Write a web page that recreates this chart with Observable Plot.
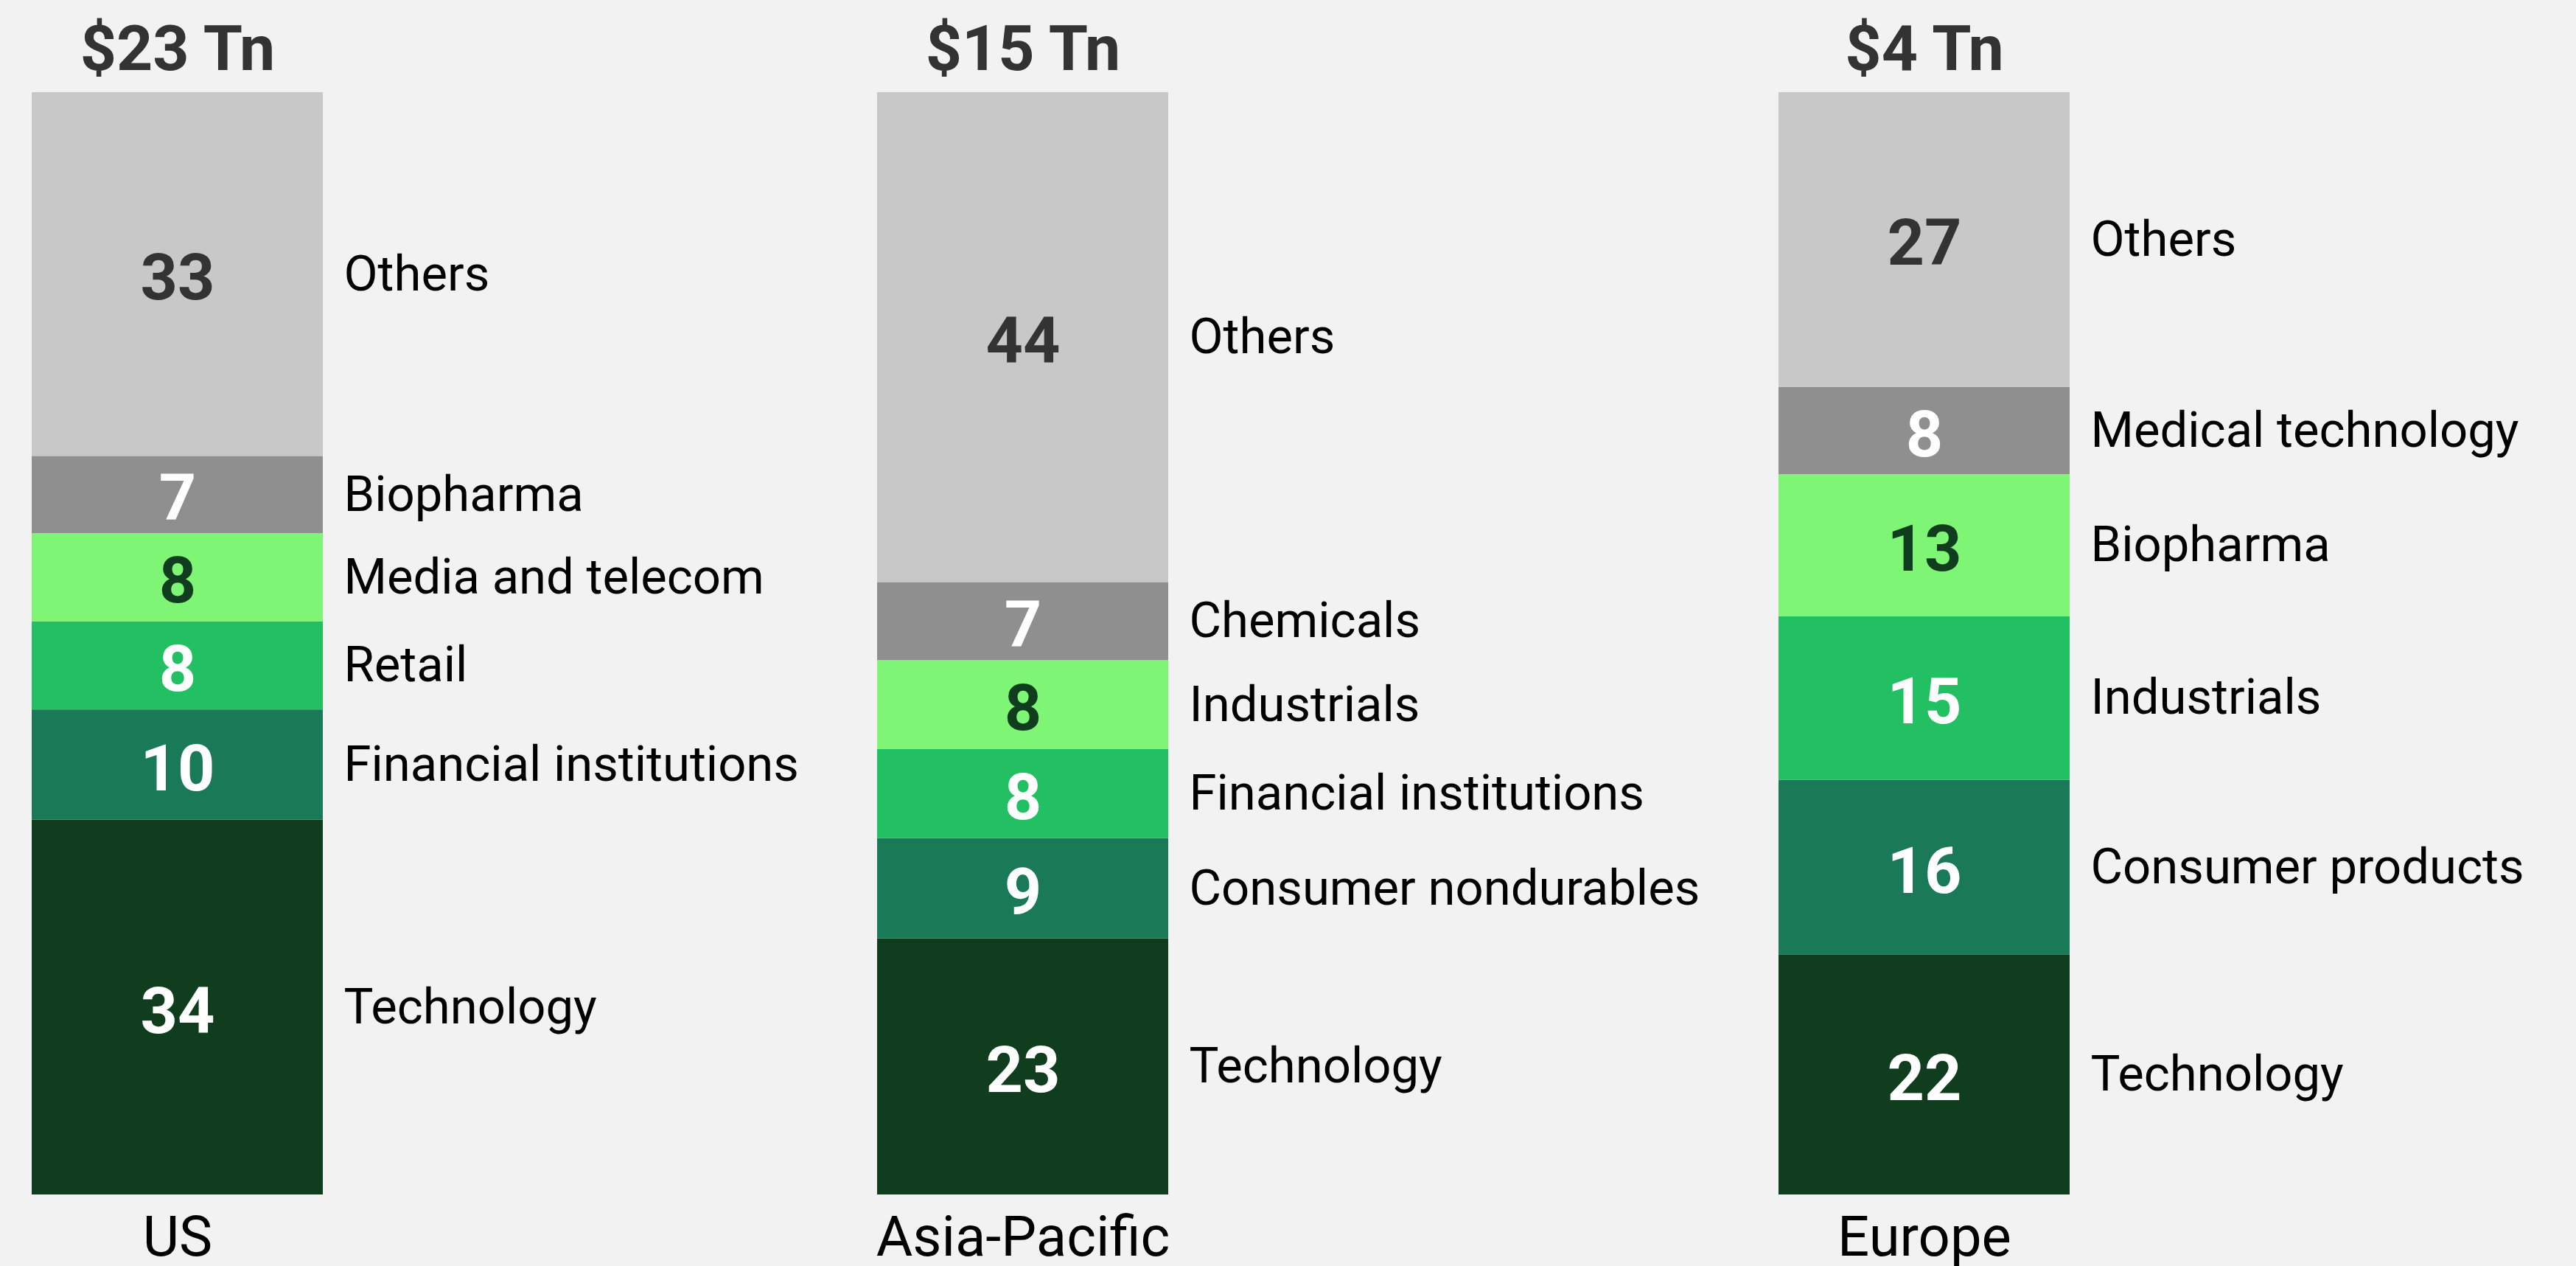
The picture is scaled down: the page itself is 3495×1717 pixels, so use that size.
<!DOCTYPE html>
<html>
<head>
<meta charset="utf-8">
<script src="https://cdn.jsdelivr.net/npm/d3@7"></script>
<script src="https://cdn.jsdelivr.net/npm/@observablehq/plot@0.6"></script>
<style>
  html, body { margin: 0; padding: 0; background: #f2f2f2; }
  #chart svg { display: block; }
</style>
</head>
<body>
<div id="chart"></div>
<script>
// ---- Data ----
const regions = ["US", "Asia-Pacific", "Europe"];
const totals = ["$23 Tn", "$15 Tn", "$4 Tn"];

// segments listed bottom -> top
const usSectors = ["Technology", "Financial institutions", "Retail", "Media and telecom", "Biopharma", "Others"];
const usValues = [34, 10, 8, 8, 7, 33];

const apSectors = ["Technology", "Consumer nondurables", "Financial institutions", "Industrials", "Chemicals", "Others"];
const apValues = [23, 9, 8, 8, 7, 44];

const euSectors = ["Technology", "Consumer products", "Industrials", "Biopharma", "Medical technology", "Others"];
const euValues = [22, 16, 15, 13, 8, 27];

// ---- Table built from the arrays ----
const sectorLists = [usSectors, apSectors, euSectors];
const valueLists = [usValues, apValues, euValues];
const rows = [];
regions.forEach((region, i) => {
  sectorLists[i].forEach((sector, r) => {
    rows.push({idx: i, region, sector, value: valueLists[i][r], rank: r});
  });
});
const heads = regions.map((region, i) => ({idx: i, region, total: totals[i]}));

// ---- Styles ----
const rankColors = ["#0f3d1e", "#1a7a57", "#22c063", "#7ef574", "#8f8f8f", "#c8c8c8"];
const barHalf = 197.5;
const stackOpts = {offset: "normalize"};
const valueDy = 6;

const chart = Plot.plot({
  width: 3495,
  height: 1717,
  marginTop: 125,
  marginBottom: 97,
  marginLeft: 0,
  marginRight: 0,
  style: {background: "#f2f2f2", fontFamily: "Roboto, 'Open Sans', sans-serif"},
  x: {type: "linear", domain: [0, 1, 2], range: [240.5, 1387.5, 2610.5], axis: null},
  y: {domain: [0, 1], axis: null},
  color: {type: "ordinal", domain: [0, 1, 2, 3, 4, 5], range: rankColors},
  marks: [
    Plot.rectY(rows, Plot.stackY(stackOpts, {
      x1: "idx", x2: "idx", y: "value", fill: "rank",
      insetLeft: -barHalf, insetRight: -barHalf
    })),
    // value labels: white
    Plot.text(rows, Plot.stackY(stackOpts, {
      x: "idx", y: "value", dy: valueDy,
      text: d => (d.rank === 5 || d.rank === 3) ? null : String(d.value),
      fill: "#ffffff", fontSize: 88, fontWeight: "bold"
    })),
    // value labels: dark green on light green
    Plot.text(rows, Plot.stackY(stackOpts, {
      x: "idx", y: "value", dy: valueDy,
      text: d => d.rank === 3 ? String(d.value) : null,
      fill: "#0f3d1e", fontSize: 88, fontWeight: "bold"
    })),
    // value labels: dark grey on light grey
    Plot.text(rows, Plot.stackY(stackOpts, {
      x: "idx", y: "value", dy: valueDy,
      text: d => d.rank === 5 ? String(d.value) : null,
      fill: "#333333", fontSize: 88, fontWeight: "bold"
    })),
    // sector labels to the right of each bar
    Plot.text(rows, Plot.stackY(stackOpts, {
      x: "idx", y: "value", text: "sector",
      textAnchor: "start", dx: barHalf + 28,
      fill: "#000000", fontSize: 67
    })),
    // totals above bars
    Plot.text(heads, {
      x: "idx", y: () => 1, text: "total",
      lineAnchor: "bottom", dy: -31,
      fill: "#333333", fontSize: 86, fontWeight: "bold"
    }),
    // region names below bars
    Plot.text(heads, {
      x: "idx", y: () => 0, text: "region",
      lineAnchor: "top", dy: 29,
      fill: "#000000", fontSize: 76
    })
  ]
});

document.getElementById("chart").appendChild(chart);
</script>
</body>
</html>
